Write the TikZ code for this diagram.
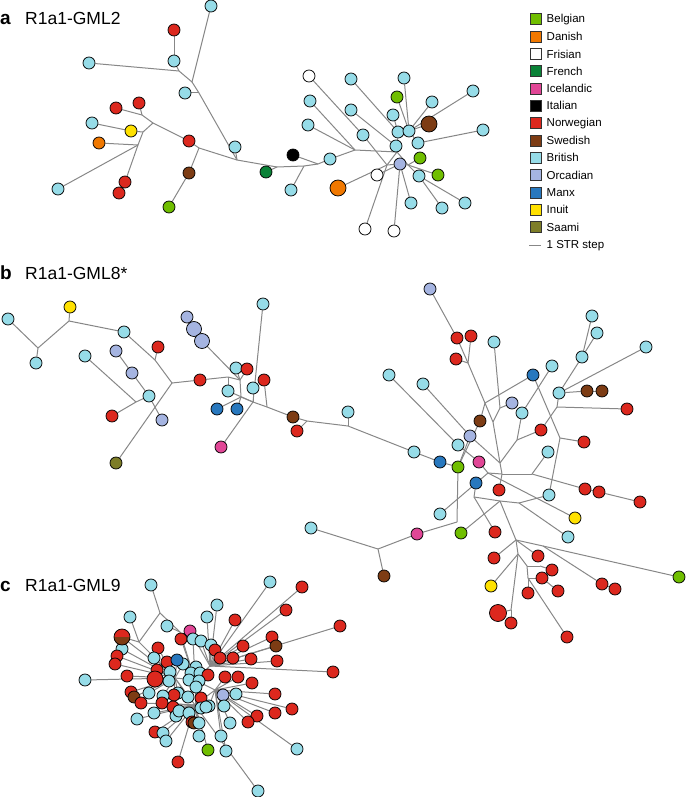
\documentclass[tikz,border=0pt]{standalone}
\usepackage{fontspec}
\setmainfont{Liberation Sans}
\pgfdeclarelayer{bg}
\pgfsetlayers{bg,main}
\definecolor{belg}{RGB}{112,190,0}
\definecolor{dan}{RGB}{240,120,0}
\definecolor{fren}{RGB}{10,130,55}
\definecolor{ice}{RGB}{225,70,150}
\definecolor{nor}{RGB}{220,40,30}
\definecolor{swe}{RGB}{125,60,20}
\definecolor{brit}{RGB}{150,220,232}
\definecolor{orc}{RGB}{165,180,225}
\definecolor{manx}{RGB}{40,120,190}
\definecolor{inu}{RGB}{255,225,0}
\definecolor{saa}{RGB}{125,125,40}
\definecolor{edgec}{RGB}{135,135,135}
\tikzset{
  n/.style={circle,draw=black,line width=0.75pt,inner sep=0pt,minimum size=12pt},
  bign/.style={n,minimum size=16pt},
  e/.style={draw=edgec,line width=1pt},
  legsq/.style={rectangle,draw=black!80,line width=0.6pt,inner sep=0pt,minimum size=11pt},
  legtx/.style={anchor=west,inner sep=0pt,font=\fontsize{11.5}{13}\selectfont},
  ttl/.style={anchor=base west,inner sep=0pt,font=\fontsize{17.5}{19}\selectfont},
  ltr/.style={anchor=base west,inner sep=0pt,font=\fontsize{19}{21}\selectfont\bfseries}
}
\begin{document}
\begin{tikzpicture}[x=1pt,y=-1pt]
\useasboundingbox (0,0) rectangle (685,797);
% titles
\node[ltr] (ta) at (0,25) {a};
\node[ttl] (tta) at (25,25) {R1a1-GML2};
\node[ltr] (tb) at (0,279) {b};
\node[ttl] (ttb) at (25,279) {R1a1-GML8*};
\node[ltr] (tc) at (0,591) {c};
\node[ttl] (ttc) at (25,591) {R1a1-GML9};
% legend
\foreach \nm/\c/\t [count=\i from 0] in {l1/belg/Belgian,l2/dan/Danish,l3/white/Frisian,l4/fren/French,l5/ice/Icelandic,l6/black/Italian,l7/nor/Norwegian,l8/swe/Swedish,l9/brit/British,l10/orc/Orcadian,l11/manx/Manx,l12/inu/Inuit,l13/saa/Saami}{
  \node[legsq,fill=\c] (\nm) at (535.5,{19.3+17.3*\i}) {};
  \node[legtx] (\nm t) at (546.5,{19.3+17.3*\i}) {\t};
}
\coordinate (lsa) at (529,245.5);
\coordinate (lsb) at (541,245.5);
\draw[e] (lsa) -- (lsb);
\node[legtx] (lst) at (546.5,245.5) {1 STR step};

% ---------------- panel a nodes
\foreach \nm/\c/\x/\y in {a1/brit/211/6,a2/nor/174/30,a3/brit/174/61,a4/brit/89/63,a5/brit/185/93,a6/nor/139/103,a7/nor/116/108,a8/brit/92/123,a9/inu/131/131,a10/dan/99/143,a11/nor/189/141,a12/brit/235/147,a13/swe/189/173,a14/fren/266/172,a15/nor/125/182,a16/nor/119/193,a17/brit/58/189,a18/belg/169/207,a19/black/293/155,a20/brit/291/190,a21/brit/330/159,a23/white/309/76,a24/brit/351/79,a25/brit/404/78,a26/brit/310/101,a27/brit/351/110,a28/brit/308/125,a29/brit/363/135,a30/belg/397/97,a31/brit/393/115,a32/brit/432/102,a33/brit/473/91,a35/brit/398/132,a36/brit/409/131,a37/brit/483/130,a38/brit/418/143,a39/brit/396/146,a40/belg/420/158,a41/orc/400/164,a42/white/377/175,a43/brit/419/176,a44/belg/438/175,a45/brit/411/203,a46/brit/442/208,a47/brit/465/203,a48/white/365/229,a49/white/394/231}{
  \node[n,fill=\c] (\nm) at (\x,\y) {};
}
\node[bign,fill=dan] (a22) at (338,188) {};
\node[bign,fill=swe] (a34) at (429,124) {};
\foreach \nm/\x/\y in {ja1/179/71,ja2/192/82,ja3/199/93,ja4/237/160,ja5/142/115,ja6/153/123,ja7/143/132,ja8/138/145,ja9/199/148,ja10/277/167,ja11/304/166,ja12/318/164,ja13/355/150,ja14/397/152,ja16/387/165,ja17/408/165}{
  \coordinate (\nm) at (\x,\y);
}

% ---------------- panel b nodes
\foreach \nm/\c/\x/\y in {b1/brit/8/319,b2/inu/70/307,b3/brit/36/363,b4/brit/124/332,b5/brit/85/356,b6/orc/116/351,b7/nor/158/347,b8/orc/132/373,b9/brit/149/396,b10/nor/112/416,b11/orc/162/420,b12/saa/116/463,b13/nor/200/380,b14/orc/187/317,b17/brit/263/304,b18/brit/236/368,b19/nor/247/369,b20/nor/264/380,b21/brit/228/391,b22/brit/253/388,b23/manx/217/409,b24/manx/237/409,b25/ice/221/447,b26/swe/293/417,b27/nor/297/431,b28/brit/348/412,b29/brit/414/452,b30/manx/440/462,b31/belg/458/467,b32/brit/458/445,b33/orc/470/436,b34/ice/479/462,b35/manx/476/483,b36/nor/499/490,b37/brit/549/495,b38/brit/389/375,b39/brit/423/384,b40/orc/430/289,b41/nor/457/338,b42/nor/471/336,b43/nor/456/359,b44/brit/494/342,b45/manx/533/375,b46/brit/552/366,b47/orc/512/403,b48/swe/480/421,b49/brit/522/413,b50/nor/541/430,b51/brit/548/452,b52/nor/584/442,b53/brit/592/316,b54/brit/597/333,b55/brit/582/357,b56/brit/646/347,b57/brit/559/393,b58/swe/587/391,b59/swe/602/391,b60/nor/627/409,b61/nor/585/489,b62/nor/599/492,b63/nor/640/502,b64/inu/575/518,b65/brit/440/514,b66/brit/568/537,b67/brit/311/528,b68/ice/417/534,b69/belg/461/533,b70/nor/495/532,b71/swe/384/576,b72/nor/494/558,b73/nor/538/556,b74/nor/552/570,b75/nor/542/578,b76/nor/558/591,b77/nor/528/593,b78/inu/491/586,b80/nor/511/623,b81/nor/567/637,b82/nor/602/584,b83/nor/615/589,b84/belg/679/577}{
  \node[n,fill=\c] (\nm) at (\x,\y) {};
}
\node[bign,minimum size=15pt,fill=orc] (b15) at (194,329) {};
\node[bign,minimum size=15pt,fill=orc] (b16) at (202,341) {};
\node[bign,minimum size=17pt,fill=nor] (b79) at (498,613) {};
\foreach \nm/\x/\y in {jb1/38/348,jb2/69/321,jb3/155/360,jb4/172/383,jb5/136/402,jb6/228/377,jb7/240/380,jb8/241/397,jb9/253/402,jb10/267/407,jb11/307/421,jb12/348/426,jb13/468/363,jb14/493/422,jb15/500/408,jb16/485/403,jb17/517/440,jb18/500/463,jb19/560/438,jb20/557/407,jb21/488/473,jb22/502/474,jb23/532/474,jb24/474/497,jb25/500/501,jb26/519/503,jb27/516/540,jb28/457/522,jb29/378/549,jb30/543/546,jb31/518/554,jb32/527/566,jb33/540/566,jb34/528/578,jb35/511/610}{
  \coordinate (\nm) at (\x,\y);
}

% ---------------- panel c nodes
\foreach \nm/\x/\y in {hc1/210/666,hc2/195/680,hc3/215/690,hc4/175/678,hc5/195/705,jc1/160/613,jc2/139/642,jc3/180/632}{
  \coordinate (\nm) at (\x,\y);
}
\foreach \nm/\c/\x/\y in {
 c1/brit/151/585,c2/brit/270/582,c3/nor/302/587,c4/brit/217/605,c5/nor/286/610,c6/brit/130/617,c7/brit/207/617,c8/nor/235/620,c9/brit/167/626,c10/nor/340/626,
 c11/ice/190/631,c12/nor/181/639,c13/brit/193/639,c14/brit/201/641,c15/nor/272/637,c16/swe/276/646,c17/brit/211/645,c18/nor/243/646,c19/nor/215/650,c20/brit/122/649,
 c21/nor/158/648,c22/nor/117/656,c23/nor/115/664,c24/brit/154/658,c25/nor/167/662,c27/brit/183/664,c28/nor/220/658,c29/nor/233/658,c30/nor/251/659,
 c31/nor/277/661,c32/brit/196/667,c33/nor/157/670,c34/brit/170/672,c35/brit/191/673,c36/brit/200/673,c37/nor/208/675,c38/nor/225/677,c39/nor/238/677,c40/nor/333/672,
 c41/brit/85/680,c42/nor/127/676,c44/brit/169/681,c45/brit/189/680,c46/brit/199/681,c47/nor/252/683,c48/brit/196/687,c49/nor/131/692,c50/swe/134/697,
 c51/brit/149/693,c52/brit/178/693,c53/nor/174/695,c54/brit/163/696,c55/brit/188/697,c56/nor/201/698,c57/orc/223/695,c58/brit/236/694,c59/nor/275/694,c60/nor/141/703,
 c61/nor/162/703,c62/nor/173/707,c63/brit/209/706,c64/brit/224/706,c65/brit/201/708,c66/brit/206/707,c67/nor/292/709,c68/nor/275/713,c69/nor/257/716,c70/nor/248/722,
 c71/brit/137/719,c72/brit/154/713,c73/brit/176/716,c74/brit/179/711,c75/brit/189/713,c76/nor/192/722,c77/swe/194/723,c78/brit/199/723,c79/brit/230/723,c80/nor/155/732,
 c81/brit/163/733,c82/brit/166/741,c83/brit/199/736,c84/brit/221/736,c85/belg/208/750,c86/brit/226/751,c87/brit/297/749,c88/nor/178/762,c89/brit/258/791}{
  \node[n,fill=\c] (\nm) at (\x,\y) {};
}
\node[n,fill=manx] (c26) at (177,660) {};
\node[bign,fill=nor] (c43) at (155,679) {};
\node[bign,fill=nor,path picture={\fill[swe] (path picture bounding box.west) rectangle (path picture bounding box.south east);}] (c0) at (122,637) {};

% ---------------- edges
\begin{pgfonlayer}{bg}
\foreach \u/\v in {a3/a2,a3/ja1,a4/ja1,ja1/ja2,a1/ja2,ja2/ja3,a5/ja3,ja3/ja4,a12/ja4,
 a7/ja5,a6/ja5,ja5/ja6,ja6/a11,ja6/ja7,a9/ja7,a8/a9,ja7/ja8,a10/ja8,a17/ja8,a15/ja8,a11/ja9,ja9/a13,a13/a18,ja9/ja4,
 ja4/ja10,a14/ja10,ja10/ja11,a20/ja11,ja11/ja12,a19/ja12,ja12/a21,a21/ja13,a26/ja13,a28/ja13,ja13/ja14,
 a23/a29,a29/ja16,a24/a35,a27/a39,a39/ja14,a25/a36,a30/a36,a32/a36,a33/a36,a34/a36,a31/a35,a35/a36,a36/a38,a37/a38,a35/ja14,
 ja14/ja16,a22/ja16,a48/ja16,ja16/a41,a42/a41,a49/a41,a45/a41,a40/ja17,ja17/a41,a43/ja17,a44/ja17,a46/a43,a47/a43,ja14/ja17}
 {\draw[e] (\u) -- (\v);}
\foreach \u/\v in {b1/jb1,b3/jb1,jb1/jb2,b2/jb2,jb2/b4,b4/jb3,b7/jb3,jb3/jb4,jb4/b13,jb4/b12,
 b6/b8,b8/b9,b9/b11,b5/jb5,b10/jb5,jb5/b9,b14/b15,b15/b16,
 b13/jb6,jb6/b21,jb6/jb7,b18/jb7,b19/jb7,b16/jb7,jb7/jb8,b23/jb8,b24/jb8,jb8/jb9,b21/jb9,b22/jb9,b17/jb9,b25/jb9,jb9/jb10,b20/jb10,jb10/b26,b26/jb11,b27/jb11,jb11/jb12,b28/jb12,jb12/b29,b29/b30,b30/b31,
 b38/b32,b39/b33,b32/b34,b33/b31,b40/b41,b41/jb13,b42/jb13,b43/jb13,jb13/jb14,b44/jb15,b47/jb15,jb15/jb14,jb14/jb18,b33/jb18,
 b45/jb16,jb16/b48,b48/b31,b45/jb19,jb19/b52,jb19/b37,
 b46/b49,b49/jb17,b50/jb17,jb17/jb18,jb18/jb22,jb21/jb22,jb22/jb23,b34/jb21,b65/jb21,jb21/b64,b36/jb22,jb23/b51,jb23/b61,b61/b62,b62/b63,
 b53/b55,b54/b55,b55/b57,b56/b57,b57/b58,b58/b59,b57/jb20,jb20/b60,jb20/b50,
 b35/jb24,jb24/b70,jb24/jb25,jb25/b69,jb25/jb26,jb26/b37,jb26/b66,jb25/jb27,
 b31/jb28,jb28/b68,b68/jb29,jb29/b67,jb29/b71,
 jb27/b72,jb27/jb30,jb30/b84,jb30/b82,b82/b83,jb27/b73,jb27/jb31,jb31/b78,jb31/jb32,jb32/jb33,jb33/b74,jb32/jb34,jb34/b75,b75/b76,jb34/b77,jb34/b81,jb31/jb35,jb35/b79,jb35/b80}
 {\draw[e] (\u) -- (\v);}
\foreach \u/\v in {c1/jc1,jc1/jc2,jc1/jc3,c6/jc2,jc2/c0,jc2/hc4,jc3/c9,jc3/hc2,
 hc1/hc2,hc2/hc3,hc2/hc4,hc2/hc5,hc3/hc5,hc4/hc5,
 c2/hc1,c3/hc1,c5/hc1,c10/hc1,c15/hc1,c16/hc1,c18/hc1,c8/hc1,c4/hc1,c40/hc1,c31/hc1,c30/hc1,c29/hc1,c28/hc1,c19/hc1,c17/hc1,c11/hc1,c14/hc1,c7/hc1,
 c47/hc3,c39/hc3,c38/hc3,c57/hc3,c58/hc3,c59/hc3,c67/hc3,c68/hc3,c69/hc3,c70/hc3,c79/hc3,c64/hc3,c63/hc3,c87/hc3,c86/hc3,c84/hc3,
 c89/hc5,c85/hc5,c83/hc5,c88/hc5,c78/hc5,c77/hc5,c76/hc5,c75/hc5,c74/hc5,c73/hc5,c82/hc5,c81/hc5,c80/hc5,c71/hc5,c72/hc5,c62/hc5,c61/hc5,c60/hc5,c56/hc5,c66/hc5,c65/hc5,
 c41/hc4,c42/hc4,c43/hc4,c44/hc4,c33/hc4,c34/hc4,c49/hc4,c50/hc4,c51/hc4,c54/hc4,c53/hc4,c52/hc4,c55/hc4,c22/hc4,c23/hc4,c20/hc4,c21/hc4,c24/hc4,c25/hc4,c26/hc4,c27/hc4,c0/hc4,
 c32/hc2,c35/hc2,c36/hc2,c37/hc2,c45/hc2,c46/hc2,c48/hc2,c12/hc2,c13/hc2}
 {\draw[e] (\u) -- (\v);}
\end{pgfonlayer}
\end{tikzpicture}
\end{document}
